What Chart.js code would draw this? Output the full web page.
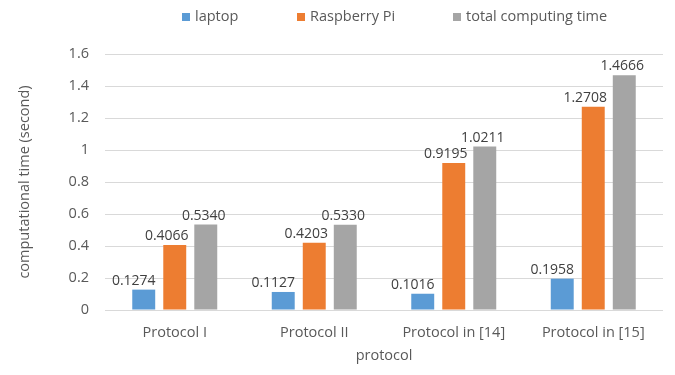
<!DOCTYPE html>
<html>
<head>
<meta charset="utf-8">
<script src="https://cdn.jsdelivr.net/npm/chart.js@4/dist/chart.umd.min.js"></script>
<style>
html,body{margin:0;padding:0;background:#fff;}
#wrap{width:675px;height:375px;position:relative;}
</style>
</head>
<body>
<div id="wrap"><canvas id="c" width="675" height="375"></canvas></div>
<script>
const categories = ["Protocol I", "Protocol II", "Protocol in [14]", "Protocol in [15]"];
const seriesNames = ["laptop", "Raspberry Pi", "total computing time"];
const laptop = [0.1274, 0.1127, 0.1016, 0.1958];
const raspberryPi = [0.4066, 0.4203, 0.9195, 1.2708];
const totalTime = [0.5340, 0.5330, 1.0211, 1.4666];
const labelText = [
  ["0.1274", "0.1127", "0.1016", "0.1958"],
  ["0.4066", "0.4203", "0.9195", "1.2708"],
  ["0.5340", "0.5330", "1.0211", "1.4666"]
];
const yTickLabels = ["0", "0.2", "0.4", "0.6", "0.8", "1", "1.2", "1.4", "1.6"];
const colors = ["#5B9BD5", "#ED7D31", "#A5A5A5"];

const FONT = "'Open Sans', Lato, sans-serif";
const TXT = "#595959";
const labelShift = [-10, -8, -2];

const valueLabels = {
  id: "valueLabels",
  afterDatasetsDraw(chart) {
    const ctx = chart.ctx;
    ctx.save();
    ctx.font = "14px " + FONT;
    ctx.fillStyle = "#404040";
    ctx.textAlign = "center";
    ctx.textBaseline = "alphabetic";
    chart.data.datasets.forEach((ds, di) => {
      chart.getDatasetMeta(di).data.forEach((bar, i) => {
        ctx.fillText(labelText[di][i], bar.x + labelShift[di], bar.y - 5);
      });
    });
    ctx.restore();
  }
};

const legendPos = [182, 297, 453];
const customLegend = {
  id: "customLegend",
  afterDraw(chart) {
    const ctx = chart.ctx;
    ctx.save();
    ctx.font = "14.5px " + FONT;
    ctx.textBaseline = "middle";
    ctx.textAlign = "left";
    chart.data.datasets.forEach((ds, di) => {
      const x = legendPos[di];
      ctx.fillStyle = ds.backgroundColor;
      ctx.fillRect(x, 13, 8, 8);
      ctx.fillStyle = TXT;
      ctx.fillText(ds.label, x + 13, 17);
    });
    ctx.restore();
  }
};

new Chart(document.getElementById("c"), {
  type: "bar",
  data: {
    labels: categories,
    datasets: [
      { label: seriesNames[0], data: laptop, backgroundColor: colors[0] },
      { label: seriesNames[1], data: raspberryPi, backgroundColor: colors[1] },
      { label: seriesNames[2], data: totalTime, backgroundColor: colors[2] }
    ]
  },
  options: {
    responsive: false,
    animation: false,
    devicePixelRatio: 1,
    layout: { padding: { top: 54, right: 12, bottom: 0, left: 0 } },
    datasets: { bar: { categoryPercentage: 0.667, barPercentage: 0.74 } },
    plugins: {
      legend: { display: false },
      tooltip: { enabled: false }
    },
    scales: {
      x: {
        grid: { display: false },
        border: { display: false },
        ticks: { color: TXT, font: { family: FONT, size: 14.5 }, padding: 6, maxRotation: 0 },
        title: { display: true, text: "protocol", color: TXT, font: { family: FONT, size: 14.5 }, padding: { top: 6, bottom: 10 } },
        afterFit(scale) { scale.height = 65; }
      },
      y: {
        min: 0, max: 1.6,
        grid: { color: "#D9D9D9", tickLength: 0, drawTicks: false },
        border: { display: false },
        ticks: {
          stepSize: 0.2,
          color: TXT,
          font: { family: FONT, size: 14.5 },
          padding: 16,
          callback: (v, i) => yTickLabels[i]
        },
        title: { display: true, text: "computational time (second)", color: TXT, font: { family: FONT, size: 14.5 }, padding: { top: 16, bottom: 4 } },
        afterFit(scale) { scale.width = 105; }
      }
    }
  },
  plugins: [valueLabels, customLegend]
});
</script>
</body>
</html>
